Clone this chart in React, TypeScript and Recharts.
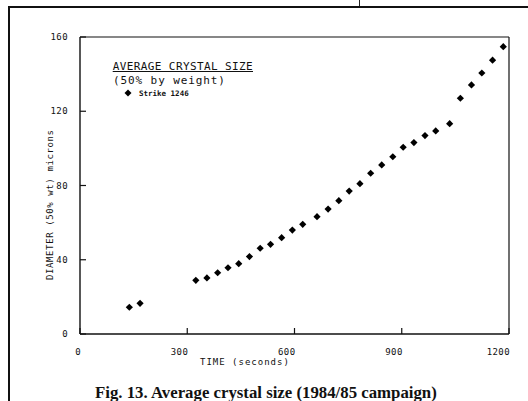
import { ScatterChart, Scatter, XAxis, YAxis, Legend, Label } from "recharts";

const timeSec = [138, 168, 324, 355, 385, 414, 444, 474, 504, 533, 564, 594, 623, 663, 694, 724, 753, 783, 813, 844, 875, 904, 934, 965, 995, 1034, 1064, 1095, 1124, 1154, 1184];
const diameter = [14.4, 16.5, 28.9, 30.2, 33.0, 35.7, 37.9, 41.7, 46.2, 48.3, 51.9, 56.0, 59.1, 63.2, 67.3, 71.8, 77.0, 81.0, 86.6, 91.1, 95.5, 100.6, 103.1, 106.9, 109.4, 113.3, 127.0, 134.2, 140.6, 147.5, 154.8];
const xTicks = [0, 300, 600, 900, 1200];
const yTicks = [0, 40, 80, 120, 160];
const innerXTicks = [300, 600, 900];
const innerYTicks = [40, 80, 120];

const data = timeSec.map((t, i) => ({ t, d: diameter[i] }));

const MONO = "'DejaVu Sans Mono', monospace";
const INK = "#111";

const Diamond = (p: any) => {
  const { cx, cy } = p;
  const r = 3.6;
  return <polygon points={`${cx},${cy - r} ${cx + r},${cy} ${cx},${cy + r} ${cx - r},${cy}`} fill="#000" />;
};

const XTick = (p: any) => (
  <text x={p.x + 1} y={p.y} dy="0.35em" textAnchor="end" fontFamily={MONO} fontSize={9} fill={INK} style={{ letterSpacing: 0.4 }}>
    {p.payload.value}
  </text>
);

const YTick = (p: any) => (
  <text x={p.x} y={p.y} dy="0.35em" textAnchor="end" fontFamily={MONO} fontSize={9} fill={INK} style={{ letterSpacing: 0.4 }}>
    {p.payload.value}
  </text>
);

const NoTick = () => null;

const LegendBox = () => (
  <svg width={160} height={46} style={{ display: "block" }}>
    <text x={7.7} y={14.5} fontFamily={MONO} fontSize={11} fill={INK} style={{ letterSpacing: 0.4 }}>AVERAGE CRYSTAL SIZE</text>
    <line x1={7.7} x2={148} y1={16.5} y2={16.5} stroke={INK} strokeWidth={1.2} />
    <text x={8} y={28.5} fontFamily={MONO} fontSize={11} fill={INK} style={{ letterSpacing: 0.9 }}>(50% by weight)</text>
    <polygon points="23,34.5 26.5,38 23,41.5 19.5,38" fill="#000" />
    <text x={34} y={40.5} fontFamily={MONO} fontSize={7.5} fontWeight="bold" fill={INK}>Strike 1246</text>
  </svg>
);

export default function App() {
  return (
    <div style={{ position: "absolute", left: 0, top: 0, width: 528, height: 401, background: "#fff", overflow: "hidden" }}>
      {/* page frame around the figure */}
      <div style={{ position: "absolute", left: 8, top: 5.5, width: 600, height: 500, borderLeft: "2.5px solid #111", borderTop: "2.5px solid #111" }} />
      <div style={{ position: "absolute", left: 358.5, top: 0, width: 1.5, height: 6, background: "#222" }} />

      <div style={{ position: "absolute", left: 0, top: 0 }}>
        <ScatterChart width={528} height={401} margin={{ top: 36, right: 18, bottom: 66, left: 79 }}>
          <XAxis
            dataKey="t" type="number" domain={[0, 1200]} ticks={xTicks} height={1}
            axisLine={{ stroke: INK, strokeWidth: 1.4 }} tickLine={{ stroke: INK, strokeWidth: 1.2 }}
            tickSize={-6} tickMargin={24} tick={XTick} interval={0}
          >
            <Label
              content={(lp: any) => (
                <text x={lp.viewBox.x + 120} y={361.5} dy="0.35em" fontFamily={MONO} fontSize={9} fill={INK} style={{ letterSpacing: 1 }}>
                  TIME (seconds)
                </text>
              )}
            />
          </XAxis>
          <XAxis
            xAxisId="top" orientation="top" type="number" domain={[0, 1200]} ticks={innerXTicks} height={1}
            axisLine={{ stroke: INK, strokeWidth: 1.2 }} tickLine={{ stroke: INK, strokeWidth: 1.2 }}
            tickSize={-6} tick={NoTick} interval={0}
          />
          <YAxis
            dataKey="d" type="number" domain={[0, 160]} ticks={yTicks} width={1}
            axisLine={{ stroke: INK, strokeWidth: 1.4 }} tickLine={{ stroke: INK, strokeWidth: 1.2 }}
            tickSize={-6} tickMargin={18} tick={YTick} interval={0}
          >
            <Label
              content={() => (
                <text x={50} y={205} transform="rotate(-90 50 205)" textAnchor="middle" dy="0.35em"
                  fontFamily={MONO} fontSize={9} fill={INK} textLength={150} lengthAdjust="spacing">
                  DIAMETER (50% wt) microns
                </text>
              )}
            />
          </YAxis>
          <YAxis
            yAxisId="right" orientation="right" type="number" domain={[0, 160]} ticks={innerYTicks} width={1}
            axisLine={{ stroke: INK, strokeWidth: 1.2 }} tickLine={{ stroke: INK, strokeWidth: 1.2 }}
            tickSize={-6} tick={NoTick} interval={0}
          />
          <Legend
            layout="vertical" align="center" verticalAlign="middle"
            wrapperStyle={{ position: "absolute", left: 105, top: 55, width: 160, height: 46 }}
            content={LegendBox}
          />
          <Scatter name="Strike 1246" data={data} shape={Diamond} isAnimationActive={false} />
        </ScatterChart>
      </div>

      <div style={{ position: "absolute", left: 95, top: 383, whiteSpace: "nowrap", fontFamily: "'Liberation Serif', serif", fontWeight: "bold", fontSize: 16.8, color: "#111" }}>
        Fig. 13. Average crystal size (1984/85 campaign)
      </div>
    </div>
  );
}
